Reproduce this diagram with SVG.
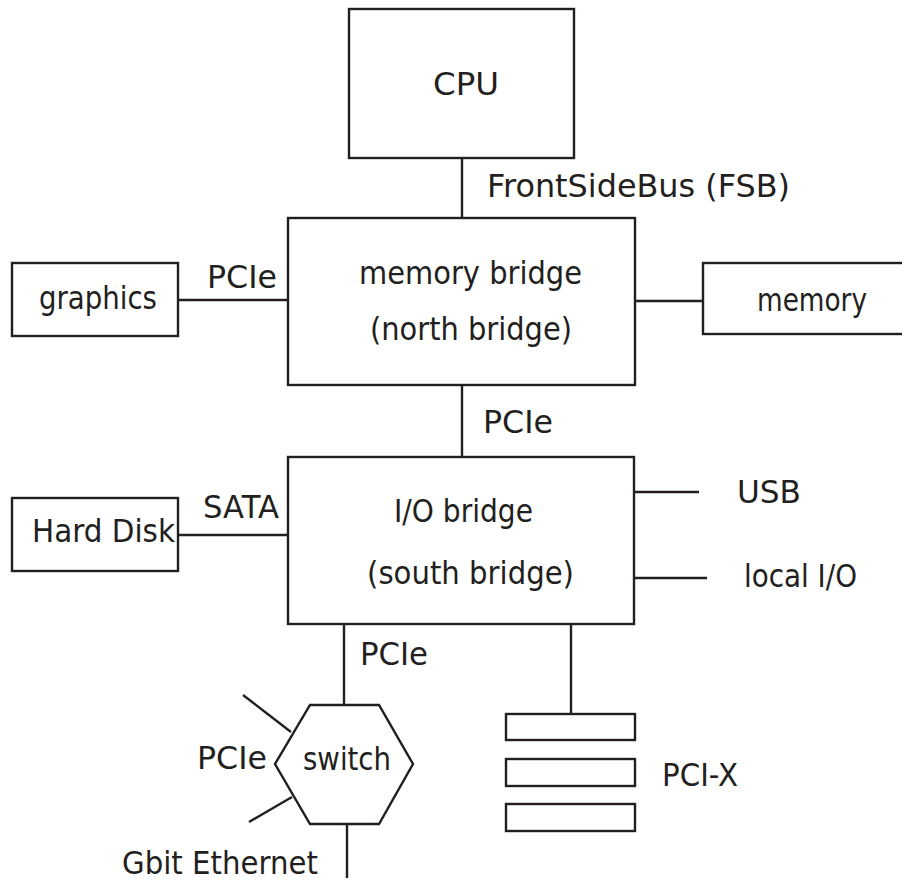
<svg xmlns="http://www.w3.org/2000/svg" width="902" height="882" viewBox="0 0 902 882">
  <style>
    .box { fill: #ffffff; stroke: #231f20; stroke-width: 2.4; }
    .wire { fill: none; stroke: #231f20; stroke-width: 2.4; }
    .lbl { font-family: "DejaVu Sans", "Liberation Sans", sans-serif; font-size: 32px; fill: #231f20; }
  </style>
  <rect width="902" height="882" fill="#ffffff"/>

  <!-- connectors -->
  <g id="connectors">
    <line class="wire" x1="462" y1="158" x2="462" y2="218"/>
    <line class="wire" x1="178" y1="300" x2="288" y2="300"/>
    <line class="wire" x1="635" y1="301" x2="703" y2="301"/>
    <line class="wire" x1="462" y1="385" x2="462" y2="457"/>
    <line class="wire" x1="178" y1="535" x2="288" y2="535"/>
    <line class="wire" x1="634" y1="492" x2="699" y2="492"/>
    <line class="wire" x1="634" y1="578" x2="707" y2="578"/>
    <line class="wire" x1="344" y1="624" x2="344" y2="705"/>
    <line class="wire" x1="571" y1="624" x2="571" y2="714"/>
    <line class="wire" x1="243" y1="695" x2="291" y2="732"/>
    <line class="wire" x1="249" y1="822" x2="292" y2="797"/>
    <line class="wire" x1="347" y1="824" x2="347" y2="878"/>
    <text class="lbl" x="487" y="197" textLength="303" lengthAdjust="spacingAndGlyphs">FrontSideBus (FSB)</text>
    <text class="lbl" x="207" y="288" textLength="70" lengthAdjust="spacingAndGlyphs">PCIe</text>
    <text class="lbl" x="483" y="433" textLength="70" lengthAdjust="spacingAndGlyphs">PCIe</text>
    <text class="lbl" x="203" y="518" textLength="76" lengthAdjust="spacingAndGlyphs">SATA</text>
    <text class="lbl" x="737" y="503" textLength="64" lengthAdjust="spacingAndGlyphs">USB</text>
    <text class="lbl" x="744" y="587" textLength="113" lengthAdjust="spacingAndGlyphs">local I/O</text>
    <text class="lbl" x="360" y="665" textLength="68" lengthAdjust="spacingAndGlyphs">PCIe</text>
    <text class="lbl" x="197" y="769" textLength="70" lengthAdjust="spacingAndGlyphs">PCIe</text>
    <text class="lbl" x="122" y="874" textLength="196" lengthAdjust="spacingAndGlyphs">Gbit Ethernet</text>
  </g>

  <g id="cpu">
    <rect class="box" x="349" y="9" width="225" height="149"/>
    <text class="lbl" x="433" y="95" textLength="66" lengthAdjust="spacingAndGlyphs">CPU</text>
  </g>

  <g id="north-bridge">
    <rect class="box" x="288" y="218" width="347" height="167"/>
    <text class="lbl" x="359" y="284" textLength="223" lengthAdjust="spacingAndGlyphs">memory bridge</text>
    <text class="lbl" x="370" y="340" textLength="202" lengthAdjust="spacingAndGlyphs">(north bridge)</text>
  </g>

  <g id="graphics">
    <rect class="box" x="12" y="263" width="166" height="73"/>
    <text class="lbl" x="39" y="309" textLength="118" lengthAdjust="spacingAndGlyphs">graphics</text>
  </g>

  <g id="memory">
    <rect class="box" x="703" y="263" width="220" height="71"/>
    <text class="lbl" x="757" y="311" textLength="110" lengthAdjust="spacingAndGlyphs">memory</text>
  </g>

  <g id="south-bridge">
    <rect class="box" x="288" y="457" width="346" height="167"/>
    <text class="lbl" x="394" y="522" textLength="139" lengthAdjust="spacingAndGlyphs">I/O bridge</text>
    <text class="lbl" x="367" y="584" textLength="207" lengthAdjust="spacingAndGlyphs">(south bridge)</text>
  </g>

  <g id="hard-disk">
    <rect class="box" x="12" y="498" width="166" height="73"/>
    <text class="lbl" x="32" y="542" textLength="143" lengthAdjust="spacingAndGlyphs">Hard Disk</text>
  </g>

  <g id="switch">
    <polygon class="box" points="310,705 379,705 413,764 379,824 310,824 275,764"/>
    <text class="lbl" x="303" y="770" textLength="88" lengthAdjust="spacingAndGlyphs">switch</text>
  </g>

  <g id="pci-x">
    <rect class="box" x="506" y="714" width="129" height="26"/>
    <rect class="box" x="506" y="759" width="129" height="27"/>
    <rect class="box" x="506" y="804" width="129" height="27"/>
    <text class="lbl" x="662" y="786" textLength="76" lengthAdjust="spacingAndGlyphs">PCI-X</text>
  </g>
</svg>
